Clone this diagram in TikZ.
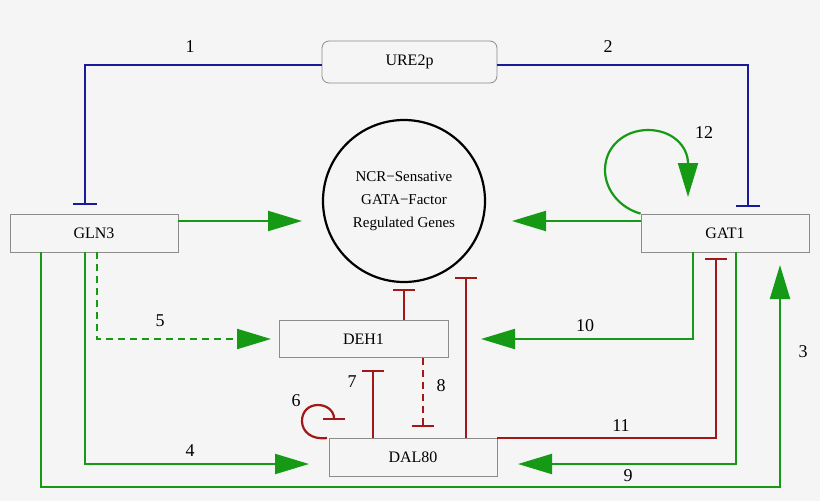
\documentclass[tikz,border=0pt]{standalone}
\usepackage{fontspec}
\setmainfont{Liberation Serif}
\usetikzlibrary{arrows.meta}
\definecolor{bg}{HTML}{F5F5F5}
\definecolor{gr}{HTML}{169A16}
\definecolor{rd}{HTML}{A01818}
\definecolor{bl}{HTML}{1A1A9A}
\begin{document}
\begin{tikzpicture}[x=1pt,y=-1pt,
  box/.style={draw=gray!90,fill=bg,line width=0.8pt,minimum height=38pt,inner sep=0pt,font=\fontsize{16}{18}\selectfont},
  act/.style={gr,line width=2.2pt,-{Triangle[length=34pt,width=20pt]}},
  inh/.style={rd,line width=2.2pt,-{Bar[width=22pt,line width=2.2pt]}},
  binh/.style={bl,line width=2.2pt,-{Bar[width=24pt,line width=2.2pt]}},
  num/.style={font=\fontsize{18}{20}\selectfont}]
\useasboundingbox[fill=bg] (0,0) rectangle (820,501);
\node[box,rounded corners=7pt,minimum width=175pt,minimum height=42pt] (ure) at (409.5,62) {URE2p};
\node[box,minimum width=168pt] (gln) at (94,233) {GLN3};
\node[box,minimum width=168pt] (gat) at (725,233) {GAT1};
\node[box,minimum width=169pt,minimum height=37pt] (deh) at (363.5,339) {DEH1};
\node[box,minimum width=168pt] (dal) at (413,457) {DAL80};
\node[draw=black,line width=2.2pt,circle,minimum size=162pt,align=center,inner sep=0pt,font=\fontsize{15}{23}\selectfont] (ncr) at (404,201) {NCR\textminus Sensative\\GATA\textminus Factor\\Regulated Genes};
\coordinate (c1) at (85,205);
\coordinate (c2) at (748,207);
\draw[binh] (ure.west |- 0,65) -| (c1);
\draw[binh] (ure.east |- 0,65) -| (c2);
\node[num] (n1) at (190,47) {1};
\node[num] (n2) at (608,47) {2};
\coordinate (t1) at (302,221);
\coordinate (t2) at (512,221);
\draw[act] (gln.east |- t1) -- (t1);
\draw[act] (gat.west |- t2) -- (t2);
\coordinate (t5) at (271,339);
\draw[act,dash pattern=on 7pt off 5pt] (gln.south -| 97,0) |- (t5);
\coordinate (t4) at (309,464);
\draw[act] (gln.south -| 85,0) |- (t4);
\coordinate (t3) at (780,265);
\draw[act] (gln.south -| 41,0) -- (41,487) -| (t3);
\coordinate (t10) at (481,339);
\draw[act] (gat.south -| 693,0) |- (t10);
\coordinate (t9) at (518,464);
\draw[act] (gat.south -| 736,0) |- (t9);
\coordinate (t12) at (688,197);
\draw[act] (gat.north west) .. controls (620,208) and (605,190) .. (605,170) .. controls (605,146) and (625,130) .. (648,130) .. controls (672,130) and (688,146) .. (t12);
\coordinate (r11) at (716,258);
\draw[inh] (dal.north east) -| (r11);
\coordinate (rc) at (466,277);
\draw[inh] (dal.north -| 466,0) -- (rc);
\coordinate (rd) at (404,289);
\draw[inh] (deh.north -| 404,0) -- (rd);
\coordinate (r7) at (373,370);
\draw[inh] (dal.north -| 373,0) -- (r7);
\coordinate (r8) at (423,427);
\draw[inh,dash pattern=on 7pt off 5pt] (deh.south -| 423,0) -- (r8);
\coordinate (r6) at (334,420);
\draw[rd,line width=2.2pt,-{Bar[width=22pt,line width=2.2pt]}] (327,438) .. controls (312,440) and (302,432) .. (302,421) .. controls (302,411) and (309,405) .. (318,405) .. controls (327,405) and (334,411) .. (r6);
\node[num] (n3) at (803,352) {3};
\node[num] (n4) at (190,451) {4};
\node[num] (n5) at (160,321) {5};
\node[num] (n6) at (296,401) {6};
\node[num] (n7) at (352,382) {7};
\node[num] (n8) at (441,386) {8};
\node[num] (n9) at (628,476) {9};
\node[num] (n10) at (585,326) {10};
\node[num] (n11) at (621,426) {11};
\node[num] (n12) at (704,133) {12};
\end{tikzpicture}
\end{document}
